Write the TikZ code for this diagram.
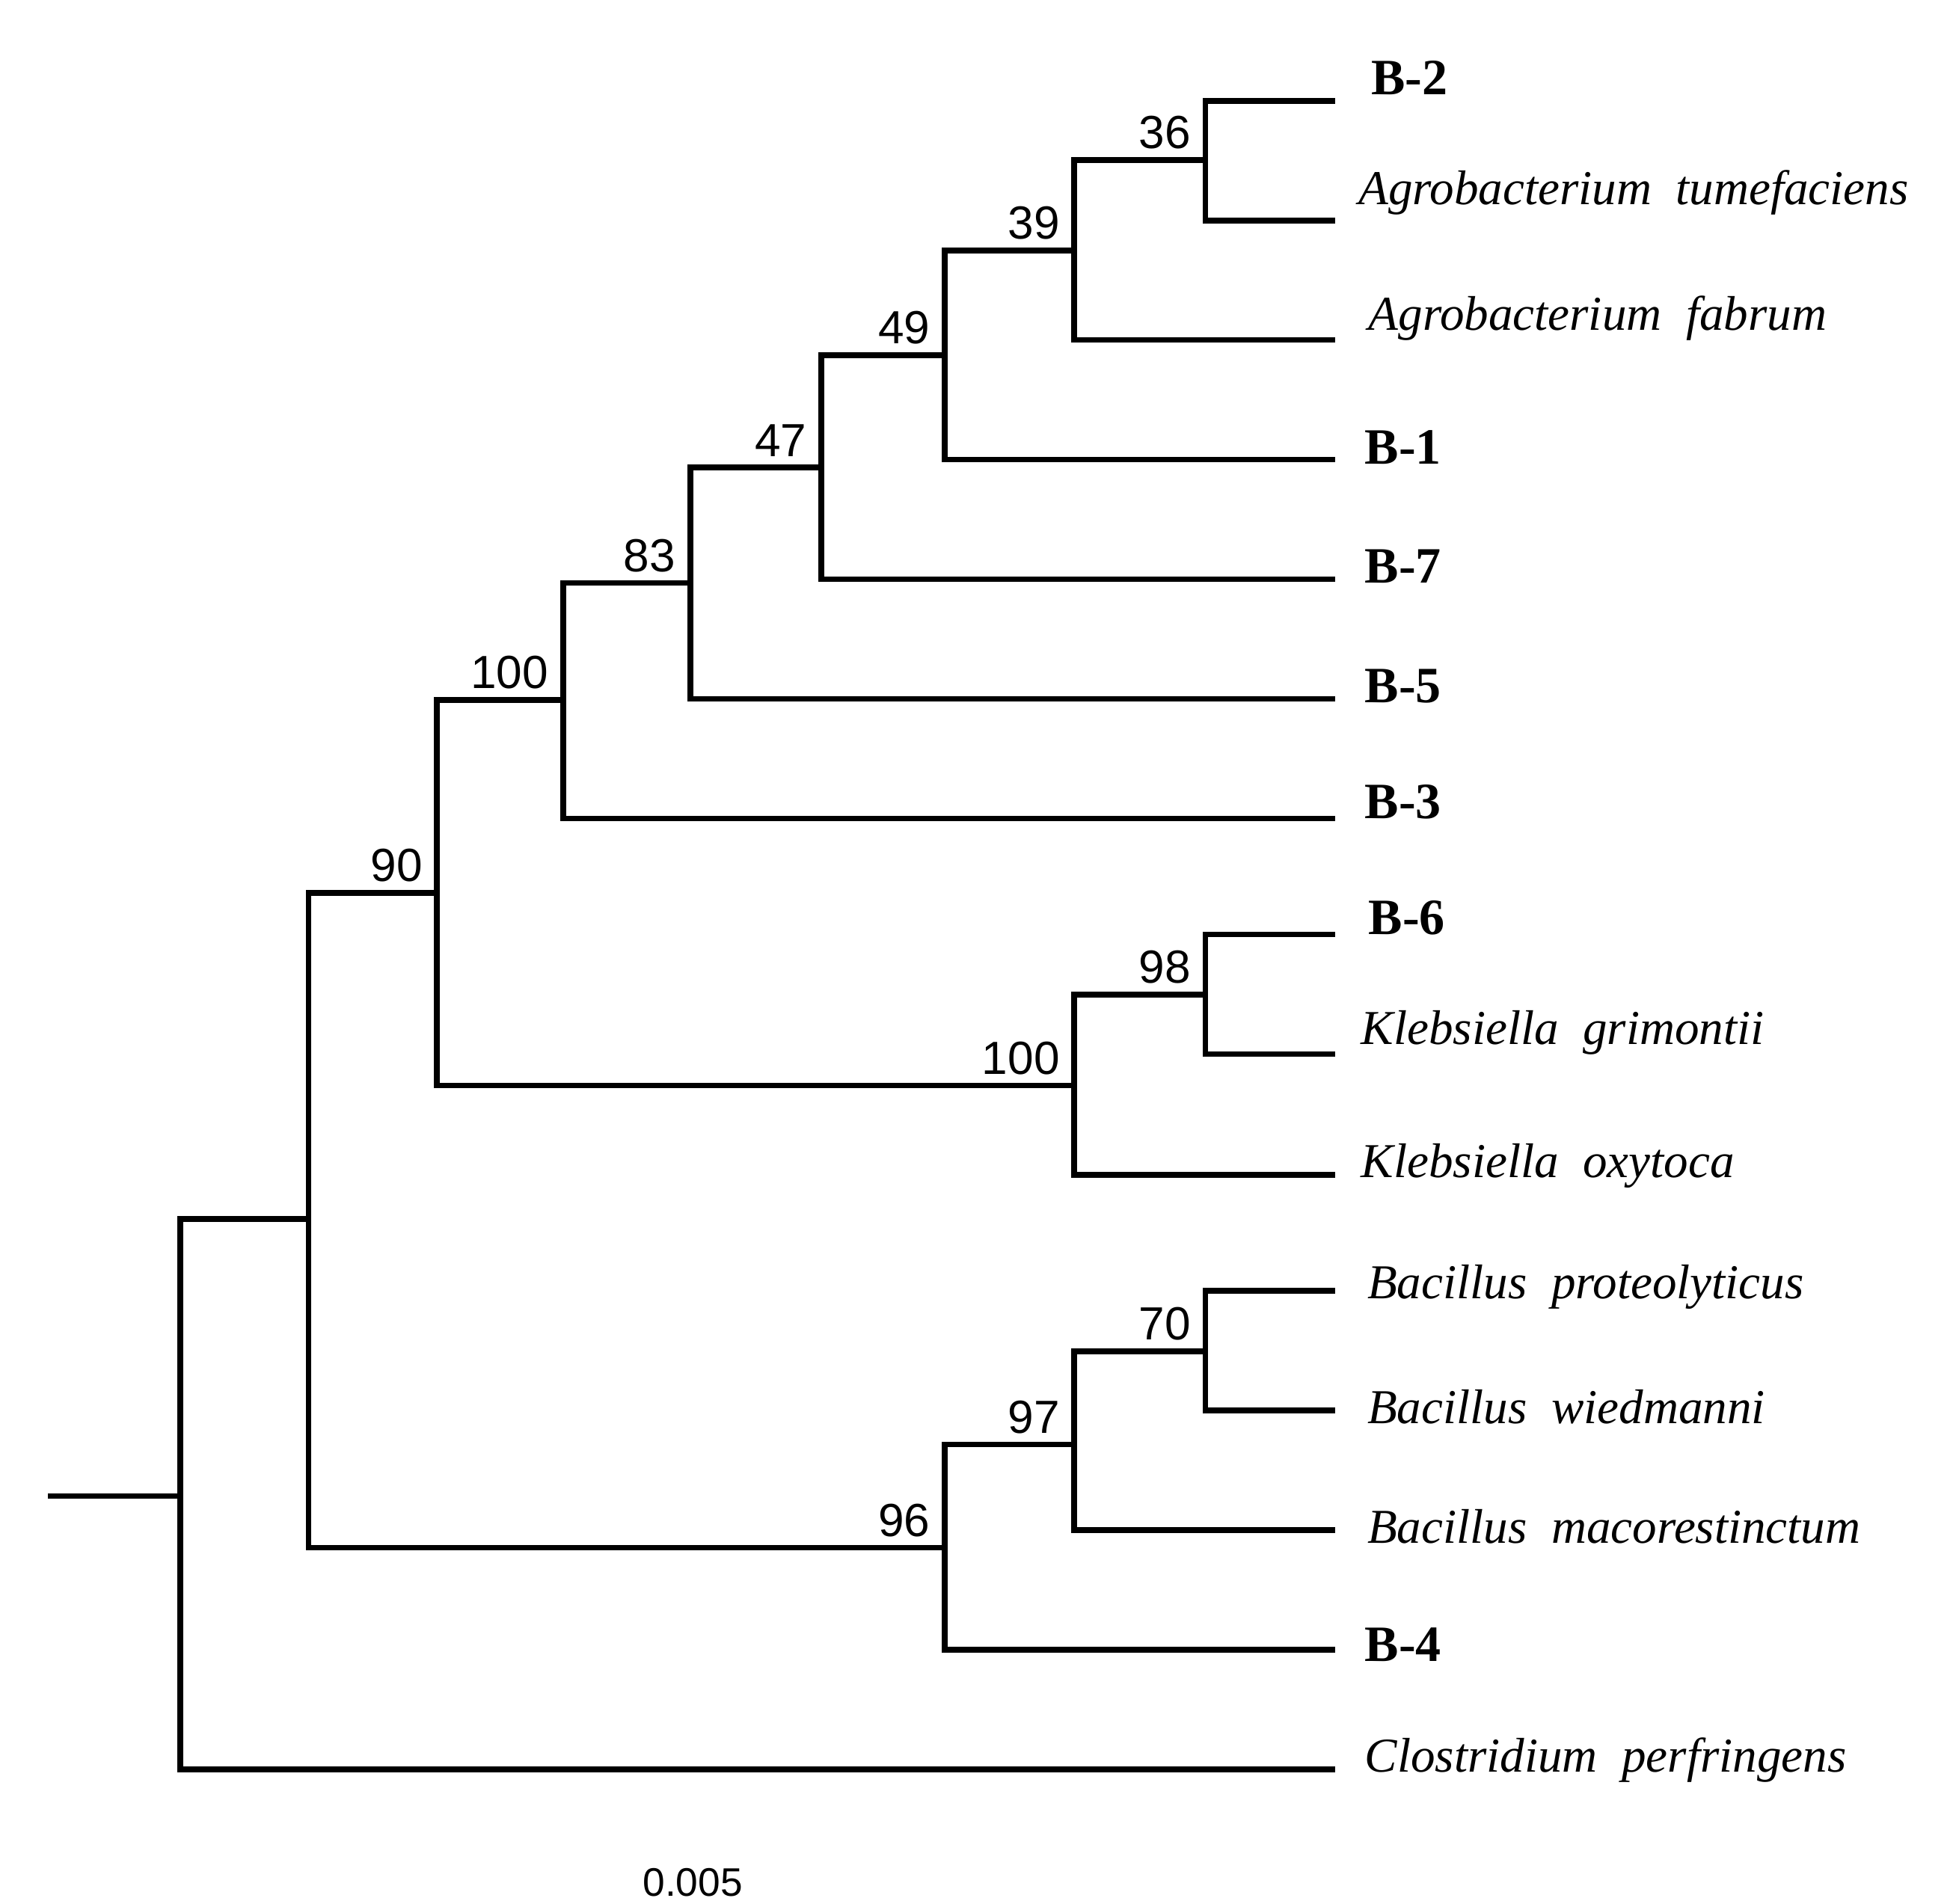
\documentclass[tikz,border=0pt]{standalone}
\usepackage{fontspec}
\setmainfont{Liberation Serif}
\newfontfamily\bsfont{Liberation Sans}
\begin{document}
\begin{tikzpicture}[x=0.1mm,y=-0.1mm,
  br/.style={line width=1.3pt,line cap=rect},
  leaf/.style={anchor=west,inner sep=0pt,font=\fontsize{11}{13}\selectfont\itshape},
  bleaf/.style={anchor=west,inner sep=0pt,font=\fontsize{11.5}{13}\selectfont\bfseries},
  bs/.style={anchor=south east,inner sep=0pt,font=\bsfont\fontsize{10.5}{12}\selectfont}]
\useasboundingbox (0,0) rectangle (1553,1512);
% leaf tips
\foreach \n/\y in {l1/80,l2/175,l3/270,l4/365,l5/460,l6/555,l7/650,l8/742,l9/837,l10/933,l11/1025,l12/1120,l13/1215,l14/1310,l15/1405}
  \coordinate (\n) at (1058,\y);
% internal nodes
\coordinate (n36) at (957,127);
\coordinate (n39) at (853,199);
\coordinate (n49) at (750,282);
\coordinate (n47) at (652,371);
\coordinate (n83) at (548,463);
\coordinate (n100a) at (447,556);
\coordinate (n98) at (957,790);
\coordinate (n100b) at (853,862);
\coordinate (n90) at (347,709);
\coordinate (n70) at (957,1073);
\coordinate (n97) at (853,1147);
\coordinate (n96) at (750,1229);
\coordinate (nA) at (245,968);
\coordinate (root) at (143,1188);
\coordinate (base) at (40,1188);
% branches
\draw[br] (l1) -| (n36) |- (l2);
\draw[br] (n36) -| (n39) |- (l3);
\draw[br] (n39) -| (n49) |- (l4);
\draw[br] (n49) -| (n47) |- (l5);
\draw[br] (n47) -| (n83) |- (l6);
\draw[br] (n83) -| (n100a) |- (l7);
\draw[br] (l8) -| (n98) |- (l9);
\draw[br] (n98) -| (n100b) |- (l10);
\draw[br] (n100a) -| (n90) |- (n100b);
\draw[br] (l11) -| (n70) |- (l12);
\draw[br] (n70) -| (n97) |- (l13);
\draw[br] (n97) -| (n96) |- (l14);
\draw[br] (n90) -| (nA) |- (n96);
\draw[br] (nA) -| (root) |- (l15);
\draw[br] (base) -- (root);
% bootstrap labels
\foreach \n/\t in {n36/36,n39/39,n49/49,n47/47,n83/83,n100a/100,n98/98,n70/70,n97/97,n90/90,n100b/100,n96/96}
  \node[bs] (b\n) at ([xshift=-1.1mm,yshift=0.8mm]\n) {\t};
% leaf labels
\node[bleaf] (t1) at (1088,62) {B-2};
\node[leaf] (t2) at (1078,153) {Agrobacterium\ \ tumefaciens};
\node[leaf] (t3) at (1086,253) {Agrobacterium\ \ fabrum};
\node[bleaf] (t4) at (1083,355) {B-1};
\node[bleaf] (t5) at (1083,450) {B-7};
\node[bleaf] (t6) at (1083,545) {B-5};
\node[bleaf] (t7) at (1083,637) {B-3};
\node[bleaf] (t8) at (1086,729) {B-6};
\node[leaf] (t9) at (1080,820) {Klebsiella\ \ grimontii};
\node[leaf] (t10) at (1080,926) {Klebsiella\ \ oxytoca};
\node[leaf] (t11) at (1085,1022) {Bacillus\ \ proteolyticus};
\node[leaf] (t12) at (1085,1117) {Bacillus\ \ wiedmanni};
\node[leaf] (t13) at (1085,1212) {Bacillus\ \ macorestinctum};
\node[bleaf] (t14) at (1083,1306) {B-4};
\node[leaf] (t15) at (1083,1398) {Clostridium\ \ perfringens};
\node[font=\bsfont\fontsize{9}{11}\selectfont,inner sep=0pt] (scale) at (550,1495) {0.005};
\end{tikzpicture}
\end{document}
